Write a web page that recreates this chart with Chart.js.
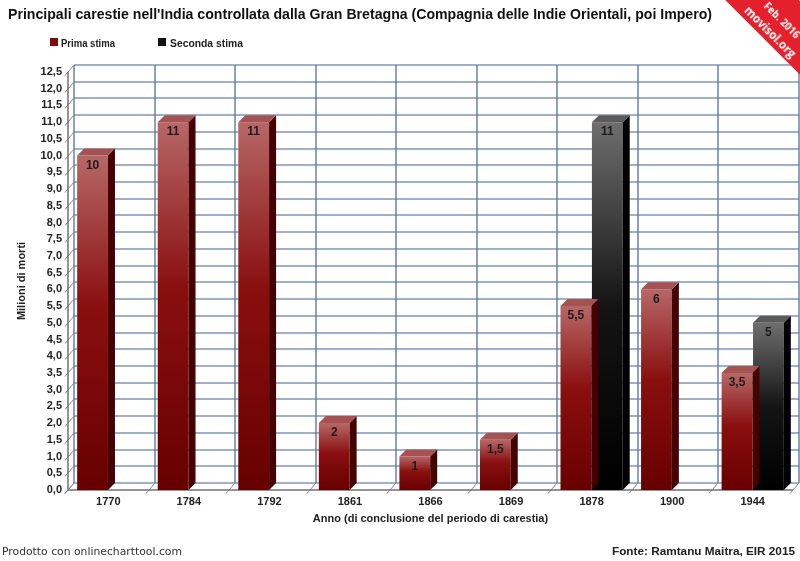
<!DOCTYPE html>
<html lang="it">
<head>
<meta charset="utf-8">
<title>Principali carestie nell'India controllata dalla Gran Bretagna</title>
<script src="https://cdn.jsdelivr.net/npm/chart.js@4.4.1/dist/chart.umd.min.js"></script>
<style>
  html, body { margin: 0; padding: 0; background: #fff; }
  #wrap { position: relative; width: 800px; height: 561px; overflow: hidden; font-family: "Liberation Sans", Arial, sans-serif; }
  #chart { position: absolute; left: 0; top: 0; display: block; }
  .fit { position: absolute; white-space: nowrap; transform-origin: 0 50%; line-height: 1; }
  #title { left: 8px; top: 6px; font: bold 14px "Liberation Sans Narrow", "Liberation Sans", Arial, sans-serif; color: #111; }
  .swatch { position: absolute; top: 38px; width: 8px; height: 8px; }
  .leg { top: 37px; font: bold 11px "Liberation Sans Narrow", "Liberation Sans", Arial, sans-serif; color: #222; }
  #prodotto { left: 2px; top: 546px; font: 10px "DejaVu Sans", Verdana, sans-serif; color: #333; }
  #fonte { left: 612px; top: 545px; font: bold 11px "Liberation Sans", Arial, sans-serif; color: #222; }
  #ribbon {
    position: absolute; left: 700px; top: -8px; width: 160px; height: 52px;
    background: #e3202b; color: #fff; transform: rotate(45deg);
    font-family: "Open Sans", "Liberation Sans", sans-serif; font-weight: bold;
  }
  #ribbon span { position: absolute; white-space: nowrap; transform: translate(-50%, -50%); line-height: 1; }
  #ribbon .l1 { left: 83px; top: 26px; font-size: 10px; }
  #ribbon .l2 { left: 83px; top: 43px; font-size: 11.5px; }
</style>
</head>
<body>
<div id="wrap">
  <canvas id="chart" width="800" height="561"></canvas>
  <div id="title" class="fit" data-w="704">Principali carestie nell'India controllata dalla Gran Bretagna (Compagnia delle Indie Orientali, poi Impero)</div>
  <div class="swatch" style="left:50px;background:#7d0c0c"></div>
  <div class="fit leg" style="left:61px" data-w="54">Prima stima</div>
  <div class="swatch" style="left:158px;background:#111"></div>
  <div class="fit leg" style="left:170px" data-w="73">Seconda stima</div>
  <div id="prodotto" class="fit" data-w="180">Prodotto con onlinecharttool.com</div>
  <div id="fonte" class="fit" data-w="183">Fonte: Ramtanu Maitra, EIR 2015</div>
  <div id="ribbon"><span class="l1">Feb. 2016</span><span class="l2">movisol.org</span></div>
</div>
<script>
// Years (end of each famine period)
const anni = ['1770', '1784', '1792', '1861', '1866', '1869', '1878', '1900', '1944'];
// Millions of deaths, first estimate
const primaStima = [10, 11, 11, 2, 1, 1.5, 5.5, 6, 3.5];
// Millions of deaths, second estimate (only two famines)
const secondaStima = [null, null, null, null, null, null, 11, null, 5];
const serieNomi = ['Prima stima', 'Seconda stima'];
const yMin = 0;
const yMax = 12.5;
const yStep = 0.5;

// depth of the fake 3D bars and of the back wall
const DX = 7, DY = 7;
const GX = 6, GY = 7;

const redStops = [[0, '#b76767'], [0.45, '#8a0f0f'], [1, '#680000']];
const blackStops = [[0, '#6e6e6e'], [0.5, '#141414'], [1, '#000000']];
const faces = [
  { side: '#450000', top: '#a55252' },
  { side: '#000000', top: '#5a5a5a' }
];

const fmt = v => String(v).replace('.', ',');

// vertical gradient from the top of each bar down to its base
const frontFill = (context, stops) => {
  const chart = context.chart;
  const v = context.raw;
  if (!chart.chartArea || v == null) return stops[stops.length - 1][1];
  const y = chart.scales.y;
  const g = chart.ctx.createLinearGradient(0, y.getPixelForValue(v), 0, y.getPixelForValue(0));
  stops.forEach(([o, c]) => g.addColorStop(o, c));
  return g;
};

const line = (ctx, x1, y1, x2, y2) => {
  ctx.beginPath();
  ctx.moveTo(x1, y1);
  ctx.lineTo(x2, y2);
  ctx.stroke();
};

// back wall grid, left wall and floor
const depthGrid = {
  id: 'depthGrid',
  beforeDatasetsDraw(chart) {
    const { ctx, chartArea: a, scales: { x, y } } = chart;
    const y0 = y.getPixelForValue(yMin);
    const yTop = y.getPixelForValue(yMax);
    const n = x.ticks.length;
    const w = (a.right - a.left) / n;
    ctx.save();

    // horizontal lines on the back wall
    ctx.lineWidth = 1.6;
    ctx.strokeStyle = '#7e96b8';
    y.ticks.forEach((t, i) => {
      const py = Math.round(y.getPixelForTick(i)) - GY;
      line(ctx, a.left + GX, py, a.right + GX, py);
    });
    // vertical lines between categories
    ctx.strokeStyle = '#62799a';
    ctx.lineWidth = 1.4;
    for (let k = 0; k <= n; k++) {
      const px = Math.round(a.left + k * w) + GX;
      line(ctx, px, y0 - GY, px, yTop - GY);
    }

    // left wall connectors / ticks
    ctx.strokeStyle = '#8a8a8a';
    ctx.lineWidth = 1;
    y.ticks.forEach((t, i) => {
      const py = Math.round(y.getPixelForTick(i));
      line(ctx, a.left - 3, py + 3.5, a.left + GX, py - GY);
    });
    // floor connectors / ticks
    for (let k = 0; k <= n; k++) {
      const px = Math.round(a.left + k * w);
      line(ctx, px - 3, y0 + 3.5, px + GX, y0 - GY);
    }
    // front edges
    ctx.strokeStyle = '#707070';
    ctx.lineWidth = 1.5;
    line(ctx, a.left, yTop, a.left, y0);
    line(ctx, a.left, y0, a.right, y0);
    ctx.restore();
  }
};

// side and top faces, drawn per dataset so later bars cover earlier sides
const bar3d = {
  id: 'bar3d',
  afterDatasetDraw(chart, args) {
    const ctx = chart.ctx;
    const pal = faces[args.index];
    const values = chart.data.datasets[args.index].data;
    ctx.save();
    args.meta.data.forEach((bar, i) => {
      if (values[i] == null) return;
      const { x, y, base, width } = bar.getProps(['x', 'y', 'base', 'width'], true);
      const l = x - width / 2, r = x + width / 2;
      ctx.fillStyle = pal.side;
      ctx.beginPath();
      ctx.moveTo(r, y);
      ctx.lineTo(r + DX, y - DY);
      ctx.lineTo(r + DX, base - DY);
      ctx.lineTo(r, base);
      ctx.closePath();
      ctx.fill();
      ctx.fillStyle = pal.top;
      ctx.beginPath();
      ctx.moveTo(l, y);
      ctx.lineTo(l + DX, y - DY);
      ctx.lineTo(r + DX, y - DY);
      ctx.lineTo(r, y);
      ctx.closePath();
      ctx.fill();
    });
    ctx.restore();
  }
};

// value written inside the top of every bar
const valueLabels = {
  id: 'valueLabels',
  afterDatasetsDraw(chart) {
    const ctx = chart.ctx;
    ctx.save();
    ctx.font = 'bold 12px "Liberation Sans", Arial, sans-serif';
    ctx.textAlign = 'center';
    ctx.textBaseline = 'middle';
    ctx.fillStyle = '#1c1c1c';
    chart.data.datasets.forEach((ds, di) => {
      chart.getDatasetMeta(di).data.forEach((bar, i) => {
        if (ds.data[i] == null) return;
        const { x, y } = bar.getProps(['x', 'y'], true);
        ctx.fillText(fmt(ds.data[i]), x, y + 10);
      });
    });
    ctx.restore();
  }
};

Chart.defaults.font.family = '"Liberation Sans", Arial, sans-serif';
Chart.defaults.color = '#222';

new Chart(document.getElementById('chart'), {
  type: 'bar',
  data: {
    labels: anni,
    datasets: [
      {
        label: serieNomi[0],
        data: primaStima,
        backgroundColor: c => frontFill(c, redStops),
        categoryPercentage: 0.78,
        barPercentage: 0.98
      },
      {
        label: serieNomi[1],
        data: secondaStima,
        backgroundColor: c => frontFill(c, blackStops),
        categoryPercentage: 0.78,
        barPercentage: 0.98
      }
    ]
  },
  options: {
    responsive: false,
    animation: false,
    layout: { padding: { left: 15, right: 7, top: 72, bottom: 35 } },
    plugins: {
      legend: { display: false },
      title: { display: false },
      tooltip: { enabled: false }
    },
    scales: {
      x: {
        grid: { display: false, drawTicks: false },
        border: { display: false },
        ticks: { font: { weight: 'bold', size: 11 }, padding: 5, autoSkip: false, maxRotation: 0 },
        title: {
          display: true,
          text: 'Anno (di conclusione del periodo di carestia)',
          font: { weight: 'bold', size: 11 },
          padding: { top: 4, bottom: 0 }
        },
        afterFit: s => { s.height = 36; }
      },
      y: {
        min: yMin,
        max: yMax,
        grid: { display: false, drawTicks: false },
        border: { display: false },
        ticks: {
          stepSize: yStep,
          autoSkip: false,
          padding: 6,
          font: { weight: 'bold', size: 11 },
          callback: v => v.toFixed(1).replace('.', ',')
        },
        title: {
          display: true,
          text: 'Milioni di morti',
          font: { weight: 'bold', size: 11 },
          padding: { top: 0, bottom: 0 }
        },
        afterFit: s => { s.width = 53; }
      }
    }
  },
  plugins: [depthGrid, bar3d, valueLabels]
});

// squeeze the condensed texts to the widths seen in the picture
document.querySelectorAll('.fit[data-w]').forEach(el => {
  const w = el.getBoundingClientRect().width;
  el.style.transform = 'scaleX(' + (Number(el.dataset.w) / w) + ')';
});
</script>
</body>
</html>
